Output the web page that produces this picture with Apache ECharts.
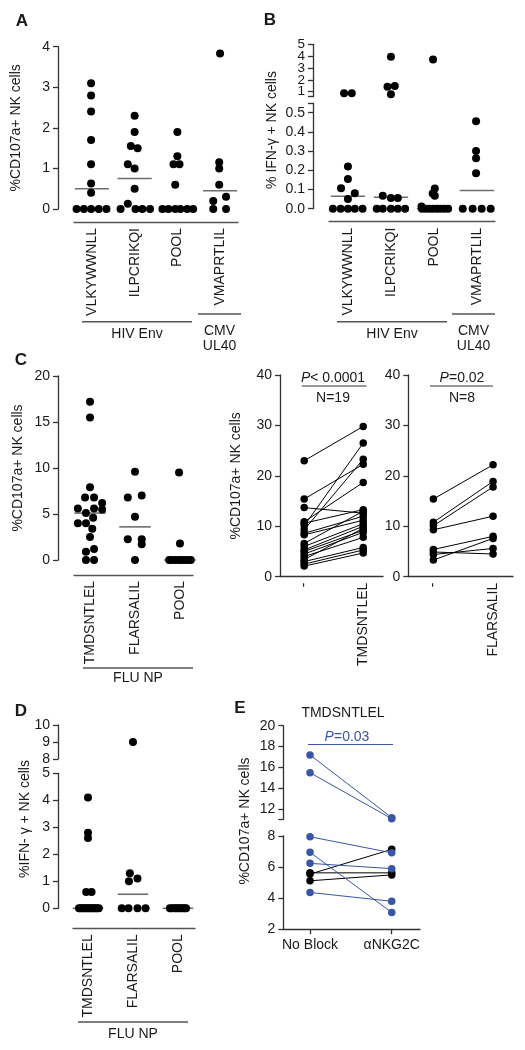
<!DOCTYPE html>
<html><head><meta charset="utf-8">
<script src="https://cdn.jsdelivr.net/npm/echarts@6/dist/echarts.min.js"></script>
<style>html,body{margin:0;padding:0;background:#fff}#c{width:525px;height:1050px}</style>
</head><body><div id="c"></div>
<script>
// ---------------- DATA ----------------
const catsHIV = ['VLKYWWNLL', 'ILPCRIKQI', 'POOL', 'VMAPRTLIL'];
const catsFLU = ['TMDSNTLEL', 'FLARSALIL', 'POOL'];
const catsMid = ['-', 'TMDSNTLEL'];
const catsRight = ['-', 'FLARSALIL'];
const catsE = ['No Block', 'αNKG2C'];

// Panel A: %CD107a+ NK cells (values and horizontal jitter, in category units)
const aVLKY = [3.1, 2.8, 2.4, 1.7, 1.1, 0.63, 0.4, 0, 0, 0, 0, 0];
const aVLKYj = [-0.02, -0.02, -0.02, -0.02, -0.02, -0.02, -0.02, -0.36, -0.19, -0.02, 0.16, 0.34];
const aILPC = [2.3, 1.9, 1.55, 1.5, 1.1, 1.0, 0.5, 0.13, 0, 0, 0, 0];
const aILPCj = [0, 0, -0.09, 0.07, -0.16, 0, 0, -0.16, -0.33, 0.02, 0.18, 0.36];
const aPOOL = [1.9, 1.3, 1.1, 1.1, 0.6, 0, 0, 0, 0, 0, 0];
const aPOOLj = [0, 0, -0.09, 0.05, -0.05, -0.35, -0.21, -0.05, 0.07, 0.23, 0.37];
const aVMAP = [3.83, 1.15, 1.0, 0.6, 0.3, 0.2, 0, 0];
const aVMAPj = [0, -0.02, -0.02, -0.02, 0.14, -0.16, -0.16, 0.14];
const aMedian = [0.5, 0.75, 0, 0.45];

// Panel B: % IFN-γ+ NK cells
const bVLKY = [0.87, 0.87, 0.22, 0.155, 0.107, 0.08, 0.05, 0, 0, 0, 0, 0];
const bVLKYj = [-0.09, 0.09, 0, 0, -0.16, 0.16, 0, -0.35, -0.17, 0, 0.16, 0.34];
const bILPC = [3.95, 1.42, 1.48, 0.78, 0.068, 0.056, 0.056, 0, 0, 0, 0, 0];
const bILPCj = [0, -0.08, 0.09, 0, -0.19, 0, 0.16, -0.33, -0.19, 0, 0.16, 0.33];
const bPOOL = [3.72, 0.105, 0.079, 0.068, 0.012, 0, 0, 0, 0, 0, 0, 0, 0];
const bPOOLj = [-0.02, 0.02, -0.03, 0.02, -0.29, -0.28, -0.19, -0.1, -0.02, 0.07, 0.15, 0.24, 0.33];
const bVMAP = [0.455, 0.30, 0.263, 0.185, 0, 0, 0, 0];
const bVMAPj = [-0.02, -0.02, -0.02, -0.02, -0.33, -0.1, 0.11, 0.32];
const bMedian = [0.065, 0.06, 0, 0.095];

// Panel C left: %CD107a+ NK cells, FLU NP
const cTMDS = [17.2, 15.5, 7.9, 6.8, 6.8, 6.2, 5.6, 5.6, 5.5, 5.1, 4.6, 4.0, 4.0, 3.4, 2.5, 1.2, 0.9, 0, 0];
const cTMDSj = [0, 0, 0, -0.11, 0.09, 0.27, -0.27, 0.09, 0.27, -0.09, 0.07, -0.27, -0.09, 0.05, 0, 0.09, -0.09, -0.09, 0.09];
const cFLAR = [9.6, 7.0, 6.8, 4.7, 2.25, 2.25, 1.7, 0];
const cFLARj = [0, 0.15, -0.16, 0, -0.16, 0.15, 0.15, 0];
const cPOOL = [9.5, 1.8, 0, 0, 0, 0, 0, 0, 0, 0];
const cPOOLj = [-0.02, 0, -0.24, -0.18, -0.1, -0.02, 0.04, 0.11, 0.18, 0.24];
const cMedian = [5.1, 3.6, 0];

// Panel C paired: unstimulated (-) vs peptide
const midPre  = [23.0, 15.4, 13.7, 10.9, 10.6, 10.1, 9.3, 8.6, 8.3, 6.6, 6.0, 5.3, 5.0, 4.5, 4.0, 3.4, 3.0, 2.5, 2.1];
const midPost = [29.8, 22.3, 12.6, 18.7, 13.3, 26.5, 23.3, 12.0, 11.2, 13.0, 10.5, 10.0, 9.2, 8.8, 7.8, 9.6, 5.8, 5.3, 4.7];
const rightPre  = [15.4, 10.8, 10.1, 9.3, 5.4, 4.9, 4.4, 3.3];
const rightPost = [22.2, 18.9, 17.8, 12.0, 8.0, 4.5, 5.6, 7.6];

// Panel D: %IFN-γ+ NK cells, FLU NP
const dTMDS = [4.1, 2.8, 2.6, 0.6, 0.6, 0, 0, 0, 0, 0, 0, 0, 0, 0, 0, 0, 0, 0, 0];
const dTMDSj = [0, 0, 0, -0.04, 0.08, -0.2, -0.17, -0.13, -0.1, -0.07, -0.03, 0, 0.03, 0.07, 0.1, 0.13, 0.17, 0.2, 0.24];
const dFLAR = [9.0, 1.3, 1.1, 1.0, 0, 0, 0, 0];
const dFLARj = [0, -0.07, 0.1, -0.09, -0.25, -0.1, 0.1, 0.28];
const dPOOL = [0, 0, 0, 0, 0, 0, 0, 0, 0, 0];
const dPOOLj = [-0.18, -0.14, -0.09, -0.05, -0.01, 0.03, 0.07, 0.11, 0.15, 0.18];
const dMedian = [0, 0.52, 0];

// Panel E: TMDSNTLEL, No Block vs αNKG2C
const eBluePre   = [17.2, 15.5, 7.95, 6.95, 6.24, 4.37];
const eBluePost  = [11.2, 11.1, 6.92, 3.08, 5.9, 3.8];
const eBlackPre  = [5.55, 5.63, 5.12];
const eBlackPost = [7.14, 5.63, 5.5];

// B upper-segment tick labels (split over two label rows so none is dropped)
const bUpperLabelsOdd = [1, 3, 5];
const bUpperLabelsEven = [2, 4];

// ---------------- STYLE / HELPERS ----------------
const FONT = '"Liberation Sans", Arial, Helvetica, sans-serif';
const INK = '#1a1a1a';
const AXC = '#333';
const MEDC = '#6e6e6e';
const BLUE = '#3a55a6';

function yAxisDef(gi, min, max, o) {
  o = o || {};
  const a = {
    type: 'value', gridIndex: gi, min: min, max: max, offset: o.offset || 0, position: 'left',
    axisLine: { show: o.noLine ? false : true, onZero: false, lineStyle: { color: AXC, width: 1.3 } },
    axisTick: { show: o.noLine ? false : true, length: 5, lineStyle: { color: AXC, width: 1.3 } },
    axisLabel: { color: INK, fontSize: o.fontSize || 14, fontFamily: FONT, margin: 8, hideOverlap: false,
                 showMinLabel: true, showMaxLabel: true },
    splitLine: { show: false }
  };
  if (o.interval) a.interval = o.interval;
  if (o.labels) a.axisLabel.customValues = o.labels;
  if (o.ticks) a.axisTick.customValues = o.ticks;
  if (o.fmt) a.axisLabel.formatter = o.fmt;
  if (o.name) {
    a.name = o.name; a.nameLocation = 'middle'; a.nameGap = o.nameGap;
    a.nameTextStyle = { color: INK, fontSize: 14, fontFamily: FONT };
  }
  return a;
}
function xAxisDef(gi, min, max, o) {
  o = o || {};
  const a = {
    type: 'value', gridIndex: gi, min: min, max: max, position: 'bottom',
    offset: o.offset || 0, show: o.show !== false,
    axisLine: { show: true, onZero: false, lineStyle: { color: o.lineColor || AXC, width: 1.3 } },
    axisTick: { show: !!o.ticks, length: 5, lineStyle: { color: AXC, width: 1.3 } },
    axisLabel: { show: !!o.names, color: INK, fontSize: 14, fontFamily: FONT, hideOverlap: false,
                 margin: o.margin || 6, rotate: o.rotate || 0 },
    splitLine: { show: false }
  };
  if (o.ticks) a.axisTick.customValues = o.ticks;
  if (o.names) {
    a.axisLabel.customValues = o.names.map((n, i) => i);
    a.axisLabel.formatter = v => o.names[Math.round(v)];
  }
  return a;
}
function pts(vals, jit, ci) { return vals.map((v, k) => [ci + jit[k], v]); }
function scatter(xi, yi, data, size) {
  return { type: 'scatter', xAxisIndex: xi, yAxisIndex: yi, data: data, symbolSize: size || 8,
           itemStyle: { color: '#000', opacity: 1 }, clip: false, z: 3, silent: true };
}
function medianSeries(xi, yi, meds, hw) {
  return {
    type: 'custom', xAxisIndex: xi, yAxisIndex: yi, clip: false, z: 2, silent: true,
    data: meds.map((m, i) => [i, m]),
    renderItem: function (params, api) {
      const i = api.value(0), m = api.value(1);
      const p1 = api.coord([i - hw, m]), p2 = api.coord([i + hw, m]);
      return { type: 'line', shape: { x1: p1[0], y1: p1[1], x2: p2[0], y2: p2[1] },
               style: { stroke: MEDC, lineWidth: 1.6 } };
    }
  };
}
function pairSeries(xi, yi, a, b, color, size) {
  return { type: 'line', xAxisIndex: xi, yAxisIndex: yi, data: [[0, a], [1, b]],
           symbol: 'circle', symbolSize: size || 7, showSymbol: true, clip: false, silent: true,
           lineStyle: { color: color, width: 1 }, itemStyle: { color: color, opacity: 1 }, z: 3 };
}
// split points of a broken axis by which segment contains them
function splitSeg(points, lowMax) {
  return { low: points.filter(p => p[1] <= lowMax), high: points.filter(p => p[1] > lowMax) };
}

// ---------------- GRIDS / AXES ----------------
const grids = [
  { left: 74, top: 46.7, width: 164, height: 162.3 },      // 0 A
  { left: 329, top: 44.3, width: 166, height: 52.4 },      // 1 B upper
  { left: 329, top: 103.1, width: 166, height: 105.6 },    // 2 B lower
  { left: 74, top: 376, width: 119, height: 184 },         // 3 C left
  { left: 280, top: 375, width: 103, height: 201.7 },      // 4 C mid
  { left: 408.3, top: 375, width: 104.7, height: 201.7 },  // 5 C right
  { left: 73, top: 725, width: 122, height: 34 },          // 6 D upper
  { left: 73, top: 773.3, width: 122, height: 135 },       // 7 D lower
  { left: 283.3, top: 725.7, width: 136.7, height: 93.6 }, // 8 E upper
  { left: 283.3, top: 836, width: 136.7, height: 93.3 }    // 9 E lower
];

const xAxes = [
  xAxisDef(0, -0.42, 3.42, { offset: 13, names: catsHIV, rotate: 90, lineColor: '#555' }),
  xAxisDef(1, -0.44, 3.42, { show: false }),
  xAxisDef(2, -0.44, 3.42, { offset: 13, names: catsHIV, rotate: 90, lineColor: '#555' }),
  xAxisDef(3, -0.356, 2.29, { offset: 15, names: catsFLU, rotate: 90, lineColor: '#555' }),
  xAxisDef(4, -0.41, 1.335, { names: catsMid, rotate: 90 }),
  xAxisDef(5, -0.42, 1.334, { names: catsRight, rotate: 90 }),
  xAxisDef(6, -0.333, 2.378, { show: false }),
  xAxisDef(7, -0.333, 2.378, { offset: 20, names: catsFLU, rotate: 90, lineColor: '#555' }),
  xAxisDef(8, -0.327, 1.346, { show: false }),
  xAxisDef(9, -0.327, 1.346, { names: catsE, ticks: [0, 1], margin: 9 })
];

const yAxes = [
  yAxisDef(0, 0, 4, { interval: 1, offset: 16, name: '%CD107a+ NK cells', nameGap: 35 }),
  yAxisDef(1, 0.58, 5, { offset: 16, labels: bUpperLabelsOdd, ticks: [0.58, 1, 2, 3, 4, 5], fontSize: 13.5 }),
  yAxisDef(2, 0, 0.55, { offset: 16, labels: [0, 0.1, 0.2, 0.3, 0.4, 0.5], ticks: [0, 0.1, 0.2, 0.3, 0.4, 0.5, 0.55],
                          fmt: v => v.toFixed(1) }),
  yAxisDef(3, 0, 20, { interval: 5, offset: 16, name: '%CD107a+ NK cells', nameGap: 33 }),
  yAxisDef(4, 0, 40, { interval: 10, name: '%CD107a+ NK cells', nameGap: 37 }),
  yAxisDef(5, 0, 40, { interval: 10 }),
  yAxisDef(6, 8, 10, { interval: 1, offset: 15 }),
  yAxisDef(7, 0, 5, { interval: 1, offset: 15 }),
  yAxisDef(8, 11.04, 20, { labels: [12, 14, 16, 18, 20], ticks: [11.04, 12, 14, 16, 18, 20] }),
  yAxisDef(9, 2, 8, { interval: 2 }),
  // 10: second label row for B upper segment (no line, same position)
  yAxisDef(1, 0.58, 5, { offset: 16, labels: bUpperLabelsEven, noLine: true, fontSize: 13.5 })
];

// ---------------- SERIES ----------------
const series = [];
// A
const aPts = [].concat(pts(aVLKY, aVLKYj, 0), pts(aILPC, aILPCj, 1), pts(aPOOL, aPOOLj, 2), pts(aVMAP, aVMAPj, 3));
series.push(medianSeries(0, 0, aMedian, 0.4));
series.push(scatter(0, 0, aPts, 8));
// B (broken axis)
const bPts = splitSeg([].concat(pts(bVLKY, bVLKYj, 0), pts(bILPC, bILPCj, 1), pts(bPOOL, bPOOLj, 2), pts(bVMAP, bVMAPj, 3)), 0.55);
series.push(medianSeries(2, 2, bMedian, 0.4));
series.push(scatter(2, 2, bPts.low, 8));
series.push(scatter(1, 1, bPts.high, 8));
// C left
const cPts = [].concat(pts(cTMDS, cTMDSj, 0), pts(cFLAR, cFLARj, 1), pts(cPOOL, cPOOLj, 2));
series.push(medianSeries(3, 3, cMedian, 0.35));
series.push(scatter(3, 3, cPts, 8));
// C paired
midPre.forEach((v, i) => series.push(pairSeries(4, 4, v, midPost[i], '#000', 7.5)));
rightPre.forEach((v, i) => series.push(pairSeries(5, 5, v, rightPost[i], '#000', 7.5)));
// D (broken axis)
const dPts = splitSeg([].concat(pts(dTMDS, dTMDSj, 0), pts(dFLAR, dFLARj, 1), pts(dPOOL, dPOOLj, 2)), 5);
series.push(medianSeries(7, 7, dMedian, 0.34));
series.push(scatter(7, 7, dPts.low, 8));
series.push(scatter(6, 6, dPts.high, 8));
// E (broken axis, pairs)
function ePair(a, b, color) {
  const hi = a > 8 && b > 8;
  const idx = hi ? 8 : 9;
  series.push(pairSeries(idx, idx, a, b, color, 7.5));
}
eBlackPre.forEach((v, i) => ePair(v, eBlackPost[i], '#000'));
eBluePre.forEach((v, i) => ePair(v, eBluePost[i], BLUE));

// ---------------- ANNOTATIONS ----------------
function txt(x, y, s, o) {
  o = o || {};
  return { type: 'text', x: x, y: y, rotation: o.rot || 0, silent: true,
           style: { text: s, fill: o.color || INK, font: (o.weight || 'normal') + ' ' + (o.size || 14) + 'px ' + FONT,
                    align: 'center', verticalAlign: 'middle', textAlign: 'center', textVerticalAlign: 'middle',
                    rich: o.rich } };
}
function hline(x1, x2, y, color, w) {
  return { type: 'line', silent: true, shape: { x1: x1, y1: y, x2: x2, y2: y },
           style: { stroke: color || '#555', lineWidth: w || 1.5 } };
}
const italicRich = {
  i: { fontStyle: 'italic', fontSize: 14, fontFamily: FONT, fill: INK },
  n: { fontSize: 14, fontFamily: FONT, fill: INK }
};
const italicRichBlue = {
  i: { fontStyle: 'italic', fontSize: 14, fontFamily: FONT, fill: BLUE },
  n: { fontSize: 14, fontFamily: FONT, fill: BLUE }
};
const graphics = [
  txt(22, 21, 'A', { weight: 'bold', size: 17 }),
  txt(270, 20, 'B', { weight: 'bold', size: 17 }),
  txt(21, 360, 'C', { weight: 'bold', size: 17 }),
  txt(21, 711, 'D', { weight: 'bold', size: 17 }),
  txt(240, 708, 'E', { weight: 'bold', size: 17 }),
  // A groups
  hline(82, 192, 321.7), txt(137, 334, 'HIV Env'),
  hline(198, 241, 314), txt(219.5, 331, 'CMV'), txt(219.5, 346, 'UL40'),
  // B groups
  hline(337, 447, 321.7), txt(392, 334, 'HIV Env'),
  hline(452, 495, 314), txt(473.5, 331, 'CMV'), txt(473.5, 346, 'UL40'),
  txt(272, 130, '% IFN-γ + NK cells', { rot: Math.PI / 2 }),
  // C left group
  hline(83, 193, 668), txt(138, 678, 'FLU NP'),
  // C paired stats
  txt(333, 378, '{i|P}{n|< 0.0001}', { rich: italicRich }), hline(301.7, 366.7, 386, '#333', 1.2), txt(333, 398, 'N=19'),
  txt(462, 378, '{i|P}{n|=0.02}', { rich: italicRich }), hline(430, 493, 386, '#333', 1.2), txt(462, 398, 'N=8'),
  // D
  hline(78, 188, 1022), txt(133, 1034, 'FLU NP'),
  txt(25, 819, '%IFN- γ + NK cells', { rot: Math.PI / 2 }),
  // E
  txt(343, 713, 'TMDSNTLEL'),
  txt(347, 737, '{i|P}{n|=0.03}', { rich: italicRichBlue, color: BLUE }), hline(308, 393, 744.5, BLUE, 1.2),
  txt(245, 821, '%CD107a+ NK cells', { rot: Math.PI / 2 })
];

const chart = echarts.init(document.getElementById('c'), null, { renderer: 'canvas' });
chart.setOption({
  animation: false,
  backgroundColor: '#fff',
  textStyle: { fontFamily: FONT },
  grid: grids,
  xAxis: xAxes,
  yAxis: yAxes,
  series: series,
  graphic: graphics
});
</script></body></html>
